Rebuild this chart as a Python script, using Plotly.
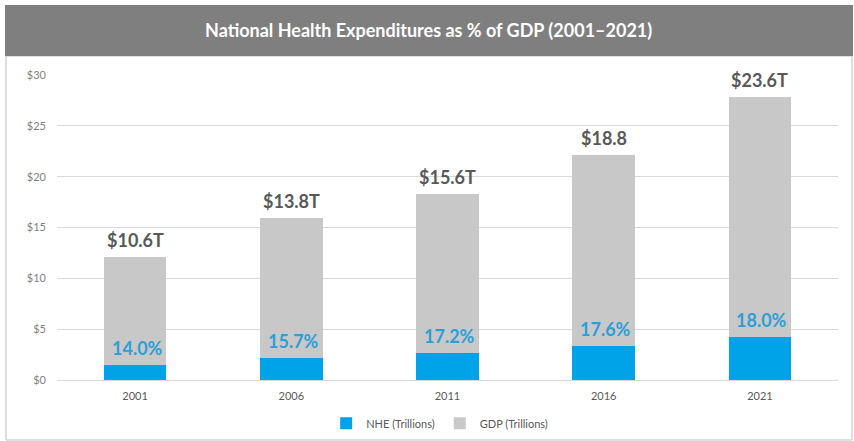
import plotly.graph_objects as go

# Data (trillions of US dollars)
years = ["2001", "2006", "2011", "2016", "2021"]
nhe = [1.48, 2.17, 2.68, 3.31, 4.25]
gdp = [10.6, 13.8, 15.6, 18.8, 23.6]
gdp_labels = ["$10.6T", "$13.8T", "$15.6T", "$18.8", "$23.6T"]
pct_labels = ["14.0%", "15.7%", "17.2%", "17.6%", "18.0%"]
y_ticks = [0, 5, 10, 15, 20, 25, 30]
y_tick_text = ["$0", "$5", "$10", "$15", "$20", "$25", "$30"]

BLUE = "#00a3e8"
GREY = "#c8c8c8"
PCT_BLUE = "#2c9fd6"
DARK = "#595959"
FONT = "Lato"

fig = go.Figure()
fig.add_trace(go.Bar(x=years, y=nhe, name="NHE (Trillions)",
                     marker=dict(color=BLUE, line=dict(width=0))))
fig.add_trace(go.Bar(x=years, y=gdp, name="GDP (Trillions)",
                     marker=dict(color=GREY, line=dict(width=0))))

# Value labels: category axes place annotations by category index
annotations = []
for i, (n, g, gl, pl) in enumerate(zip(nhe, gdp, gdp_labels, pct_labels)):
    annotations.append(dict(x=i, y=n + g, xref="x", yref="y",
                            text=f"<b>{gl}</b>", showarrow=False,
                            yanchor="bottom", yshift=4,
                            font=dict(family=FONT, size=18, color=DARK)))
    annotations.append(dict(x=i, y=n, xref="x", yref="y",
                            text=f"<b>{pl}</b>", showarrow=False,
                            yanchor="bottom", yshift=4, xshift=2,
                            font=dict(family=FONT, size=18, color=PCT_BLUE)))

# Title banner text
annotations.append(dict(x=0.4755, y=1.146, xref="paper", yref="paper",
                        text="<b>National Health Expenditures as % of GDP (2001\u20132021)</b>",
                        showarrow=False, xanchor="center", yanchor="middle",
                        font=dict(family=FONT, size=18, color="white")))

shapes = [
    # outer frame
    dict(type="rect", xref="paper", yref="paper", x0=-0.0653, x1=1.0179,
         y0=-0.1967, y1=1.0623, line=dict(color="#bfbfbf", width=1),
         fillcolor="rgba(0,0,0,0)", layer="below"),
    # title banner
    dict(type="rect", xref="paper", yref="paper", x0=-0.0666, x1=1.0192,
         y0=1.0623, y1=1.2295, line=dict(width=0), fillcolor="#7f7f7f",
         layer="below"),
]

fig.update_layout(
    width=854, height=441,
    margin=dict(l=57, r=16, t=75, b=61, autoexpand=False),
    barmode="stack",
    bargap=0.6,
    plot_bgcolor="white",
    paper_bgcolor="white",
    font=dict(family=FONT, size=11, color=DARK),
    showlegend=True,
    legend=dict(orientation="h", x=0.49, xanchor="center",
                yref="container", y=0.04, yanchor="middle",
                traceorder="normal", itemwidth=30,
                font=dict(family=FONT, size=11, color=DARK)),
    annotations=annotations,
    shapes=shapes,
)
fig.update_xaxes(type="category", categoryorder="array", categoryarray=years,
                 range=[-0.5, len(years) - 0.5],
                 showgrid=False, showline=False, ticks="", ticklabelstandoff=8,
                 tickfont=dict(family=FONT, size=11, color=DARK))
fig.update_yaxes(range=[0, 30], tickvals=y_ticks, ticktext=y_tick_text,
                 showgrid=True, gridcolor="#d9d9d9", gridwidth=1,
                 zeroline=True, zerolinecolor="#d9d9d9", zerolinewidth=1,
                 showline=False, ticks="", ticklabelstandoff=10,
                 tickfont=dict(family=FONT, size=11, color="#7f7f7f"))

fig.write_html("out.html")
